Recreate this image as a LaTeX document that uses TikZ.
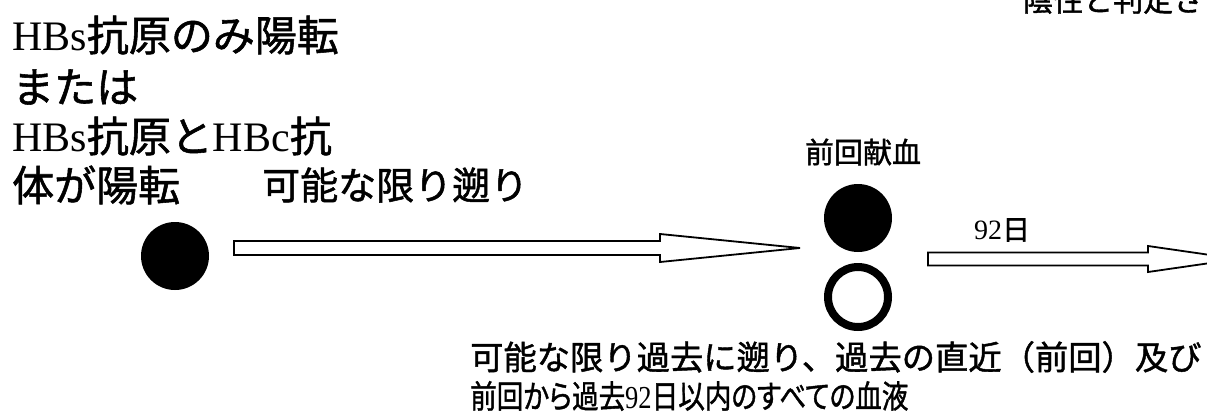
\documentclass[tikz,border=0pt]{standalone}
\usepackage{fontspec}
\setmainfont{Liberation Serif}
\newfontfamily\jp[FakeBold=1.3]{Noto Sans CJK JP}
\newfontfamily\jpp[FakeBold=1.3,RawFeature=+palt]{Noto Sans CJK JP}
\usetikzlibrary{calc}
\tikzset{
  txt/.style={inner sep=0pt, anchor=west},
  big/.style={txt, font=\fontsize{42}{44}\selectfont},
  dot/.style={circle, fill=black, inner sep=0pt, minimum size=68pt},
  ring/.style={circle, draw=black, line width=8pt, inner sep=0pt, minimum size=60pt},
  barrowline/.style={draw=black, line width=1.8pt, fill=white, line join=miter}
}
\begin{document}
\begin{tikzpicture}[x=1pt,y=-1pt]
\useasboundingbox (0,0) rectangle (1207,418);
\clip (0,0) rectangle (1207,418);
\fill[white] (0,0) rectangle (1207,418);
% left text block
\node[big] (l1) at (12,35) {HBs{\jp 抗原のみ陽転}};
\node[big] (l2) at (12,87) {\jp または};
\node[big] (l3) at (12,136) {HBs{\jp 抗原と}HBc{\jp 抗}};
\node[big] (l4) at (12,185) {\jp 体が陽転};
\node[txt, font=\fontsize{38}{40}\selectfont] (back) at (262,185) {\jp 可能な限り遡り};
% top right clipped text
\node[txt, font=\fontsize{30}{32}\selectfont] (neg) at (1023,0) {\jp 陰性と判定さ};
% circles
\node[dot] (c0) at (175,256) {};
\node[dot] (c1) at (858,218) {};
\node[ring] (c2) at (858,297) {};
\node[font=\fontsize{29}{31}\selectfont, inner sep=0pt] (prev) at (863,152) {\jp 前回献血};
% arrow 1
\coordinate (a1s) at (234,248);
\coordinate (a1h) at (660,248);
\coordinate (a1t) at (800,248);
\draw[barrowline] ($(a1s)+(0,-7)$) -- ($(a1h)+(0,-7)$) -- ($(a1h)+(0,-14)$) -- (a1t)
  -- ($(a1h)+(0,14)$) -- ($(a1h)+(0,7)$) -- ($(a1s)+(0,7)$) -- cycle;
% arrow 2
\coordinate (a2s) at (928,259);
\coordinate (a2h) at (1148,259);
\coordinate (a2t) at (1238,259);
\draw[barrowline] ($(a2s)+(0,-6.5)$) -- ($(a2h)+(0,-6.5)$) -- ($(a2h)+(0,-13)$) -- (a2t)
  -- ($(a2h)+(0,13)$) -- ($(a2h)+(0,6.5)$) -- ($(a2s)+(0,6.5)$) -- cycle;
\node[font=\fontsize{28}{30}\selectfont, inner sep=0pt] (d92) at (1002,230) {92{\jp 日}};
% bottom text
\node[txt, font=\fontsize{33.3}{35}\selectfont] (b1) at (470,357) {\jp 可能な限り過去に遡り、過去の直近（前回）及び};
\node[txt, font=\fontsize{32}{34}\selectfont] (b2) at (470,396) {\scalebox{0.83}[1]{{\jpp 前回から過去}92{\jpp 日以内のすべての血液}}};
\end{tikzpicture}
\end{document}
